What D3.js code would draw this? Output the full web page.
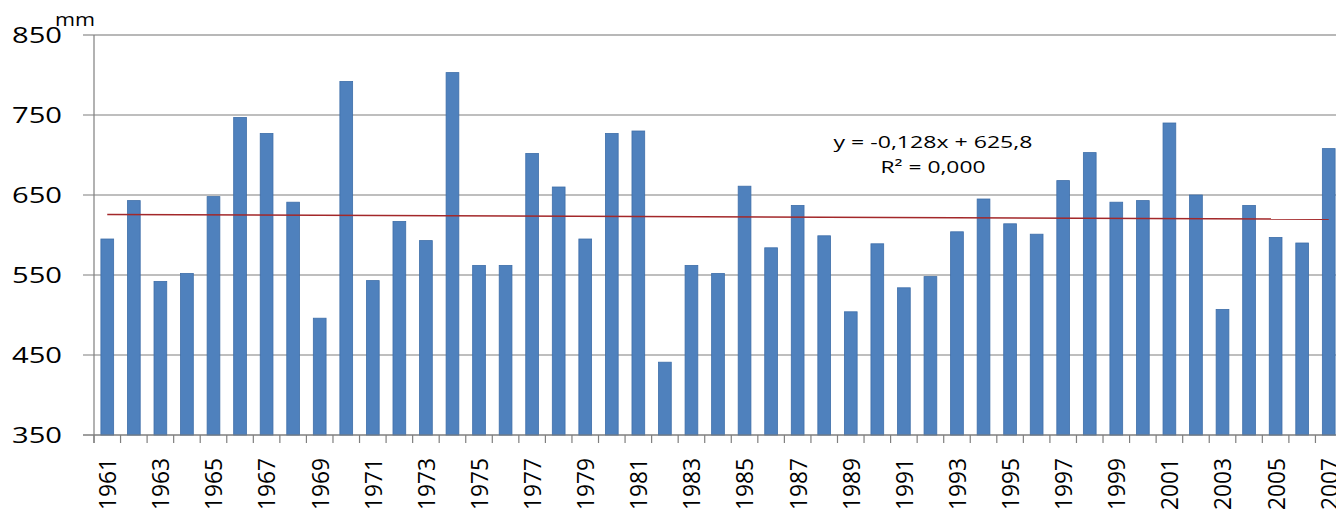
<!DOCTYPE html>
<html>
<head>
<meta charset="utf-8">
<script src="https://cdn.jsdelivr.net/npm/d3@7"></script>
<style>
html,body{margin:0;padding:0;background:#fff;overflow:hidden;}
svg{display:block;}
</style>
</head>
<body>
<svg id="chart" width="1336" height="511"></svg>
<script>
const years = d3.range(1961, 2008).map(String);
const precipitation = [
  595, 643, 542, 552, 648, 747, 727, 641, 496, 792,
  543, 617, 593, 803, 562, 562, 702, 660, 595, 727,
  730, 441, 562, 552, 661, 584, 637, 599, 504, 589,
  534, 548, 604, 645, 614, 601, 668, 703, 641, 643,
  740, 650, 507, 637, 597, 590, 708
];
const yTicks = [350, 450, 550, 650, 750, 850];
const trendSlope = -0.128;
const trendIntercept = 625.8;
const equationLines = ["y = -0,128x + 625,8", "R² = 0,000"];
const unitLabel = "mm";

(function () {
const svg = d3.select("#chart");
const mLeft = 94, mRight = 1342, mTop = 35, mBottom = 435;

const x = d3.scaleBand().domain(years).range([mLeft, mRight]).paddingInner(0.52).paddingOuter(0.26);
const y = d3.scaleLinear().domain([350, 850]).range([mBottom, mTop]);
const step = x.step();
const bandStart = i => mLeft + i * step;

// gridlines (extend left as tick marks)
svg.append("g").selectAll("line").data(yTicks).join("line")
  .attr("x1", 83).attr("x2", 1336)
  .attr("y1", d => y(d)).attr("y2", d => y(d))
  .attr("stroke", d => d === 850 ? "#b8b8b8" : "#7f7f7f")
  .attr("stroke-width", d => d === 850 ? 2 : 1.2);

// y labels
svg.append("g").selectAll("text").data(yTicks).join("text")
  .attr("x", 62).attr("y", d => y(d)).attr("dy", "0.36em")
  .attr("text-anchor", "end")
  .attr("font-family", "'Open Sans', sans-serif")
  .attr("font-size", 22)
  .attr("textLength", 50).attr("lengthAdjust", "spacingAndGlyphs")
  .attr("fill", "#000")
  .text(d => d);

svg.append("text").attr("x", 55).attr("y", 26)
  .attr("font-family", "'Open Sans', sans-serif").attr("font-size", 18)
  .attr("textLength", 40).attr("lengthAdjust", "spacingAndGlyphs")
  .text(unitLabel);

// bars
svg.append("g").selectAll("rect").data(precipitation).join("rect")
  .attr("x", (d, i) => x(years[i]))
  .attr("width", x.bandwidth())
  .attr("y", d => y(d))
  .attr("height", d => y(350) - y(d))
  .attr("fill", "#4f81bd")
  .attr("stroke", "#3e6ea9").attr("stroke-width", 0.8);

// axes lines
svg.append("line").attr("x1", mLeft).attr("x2", mLeft).attr("y1", mTop).attr("y2", 443)
  .attr("stroke", "#7f7f7f").attr("stroke-width", 1.2);
svg.append("line").attr("x1", 83).attr("x2", 1336).attr("y1", mBottom).attr("y2", mBottom)
  .attr("stroke", "#7f7f7f").attr("stroke-width", 1.2);

// x tick marks at band boundaries
svg.append("g").selectAll("line").data(d3.range(years.length + 1)).join("line")
  .attr("x1", i => bandStart(i)).attr("x2", i => bandStart(i))
  .attr("y1", mBottom).attr("y2", 443)
  .attr("stroke", "#7f7f7f").attr("stroke-width", 1.2);

// x labels every other year
svg.append("g").selectAll("text").data(years.filter((d, i) => i % 2 === 0)).join("text")
  .attr("transform", d => `translate(${x(d) + x.bandwidth() / 2},458) rotate(-90)`)
  .attr("dy", "0.37em")
  .attr("text-anchor", "end")
  .attr("font-family", "'Open Sans', sans-serif")
  .attr("font-size", 24)
  .attr("textLength", 52).attr("lengthAdjust", "spacingAndGlyphs")
  .attr("fill", "#000")
  .text(d => d);

// trend line
const n = years.length;
const trend = [1, n].map(k => [x(years[k - 1]) + x.bandwidth() / 2, y(trendIntercept + trendSlope * k)]);
svg.append("path").attr("d", d3.line()(trend))
  .attr("stroke", "#a3282a").attr("stroke-width", 1.6).attr("fill", "none");

// equation
const eq = svg.append("g").attr("font-family", "'Open Sans', sans-serif").attr("font-size", 17).attr("text-anchor", "middle");
eq.append("text").attr("x", 933).attr("y", 148).attr("textLength", 199).attr("lengthAdjust", "spacingAndGlyphs").text(equationLines[0]);
eq.append("text").attr("x", 933).attr("y", 172.5).attr("textLength", 105).attr("lengthAdjust", "spacingAndGlyphs").text(equationLines[1]);
})();
</script>
</body>
</html>
